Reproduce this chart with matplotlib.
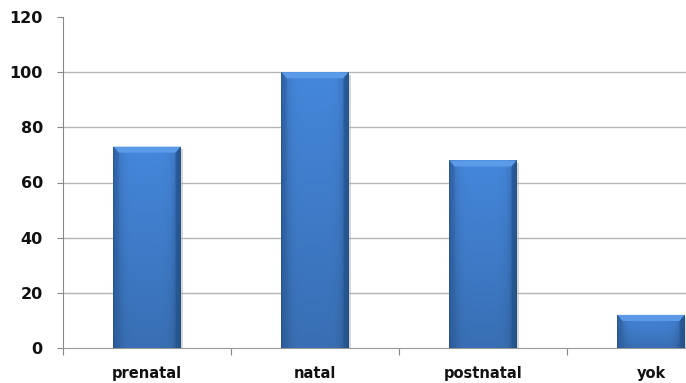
import numpy as np
import matplotlib
matplotlib.use("Agg")
import matplotlib.pyplot as plt
from matplotlib.patches import Rectangle, Polygon

categories = ["prenatal", "natal", "postnatal", "yok"]
values = [73, 100, 68, 12]
yticks = [0, 20, 40, 60, 80, 100, 120]

fig = plt.figure(figsize=(6.86, 3.83), dpi=100)
ax = fig.add_axes([63 / 686, 35 / 383, 672 / 686, 331 / 383])
ax.set_xlim(-0.5, 3.5)
ax.set_ylim(0, 120)

width = 0.4
x = np.arange(len(categories))

# horizontal grid lines (none on top)
for t in yticks[1:-1]:
    ax.axhline(t, color="#b4b4b4", lw=1.0, zorder=1)

# shading image for the bevelled bars: darker towards the sides and the bottom
nx, ny = 60, 100
gx = np.linspace(-1, 1, nx)
gy = np.linspace(0, 1, ny)[:, None]
side = 1 - 0.35 * np.abs(gx) ** 6
shade = side[None, :] * (0.82 + 0.18 * gy)
top_col = np.array([0.27, 0.53, 0.86])
rgb = shade[..., None] * top_col[None, None, :]

for xi, v in zip(x, values):
    x0, x1 = xi - width / 2, xi + width / 2
    # soft shadow to the right
    ax.add_patch(Rectangle((x1, 0), 0.012, v - 1, color="#b0b0b0", alpha=0.5, zorder=2, lw=0))
    im = ax.imshow(rgb, extent=(x0, x1, 0, v), origin="lower", aspect="auto",
                   interpolation="bilinear", zorder=3)
    clip = Rectangle((x0, 0), width, v, transform=ax.transData, fc="none", ec="none")
    ax.add_patch(clip)
    im.set_clip_path(clip)
    # bevel on the top edge and the sides
    b = 2.2
    bw = 0.03
    ax.add_patch(Polygon([(x0, v), (x1, v), (x1 - bw, v - b), (x0 + bw, v - b)],
                         closed=True, fc="#5a9ae6", ec="none", zorder=4))
    ax.add_patch(Polygon([(x0, v), (x0 + bw, v - b), (x0 + bw, 0), (x0, 0)],
                         closed=True, fc="#2f66ad", ec="none", alpha=0.6, zorder=4))
    ax.add_patch(Polygon([(x1, v), (x1 - bw, v - b), (x1 - bw, 0), (x1, 0)],
                         closed=True, fc="#24548f", ec="none", alpha=0.7, zorder=4))

ax.set_yticks(yticks)
ax.set_yticklabels([str(t) for t in yticks])

ax.set_xticks(np.arange(-0.5, 3.5, 1.0))
ax.set_xticklabels([])
ax.set_xticks(x, minor=True)
ax.set_xticklabels(categories, minor=True)
ax.tick_params(axis="x", which="minor", length=0, pad=13)
ax.tick_params(axis="x", which="major", length=5, color="#888888", direction="out")
ax.tick_params(axis="y", length=4, color="#888888", pad=10.5)

for lab in ax.get_xticklabels(minor=True):
    lab.set_fontweight("bold")
    lab.set_fontsize(10.5)
    lab.set_color("#111111")
for lab in ax.get_yticklabels():
    lab.set_fontweight("bold")
    lab.set_fontsize(11.5)
    lab.set_color("#111111")

for s in ["top", "right"]:
    ax.spines[s].set_visible(False)
ax.spines["left"].set_color("#888888")
ax.spines["bottom"].set_color("#999999")

fig.savefig("out.png", dpi=100)
